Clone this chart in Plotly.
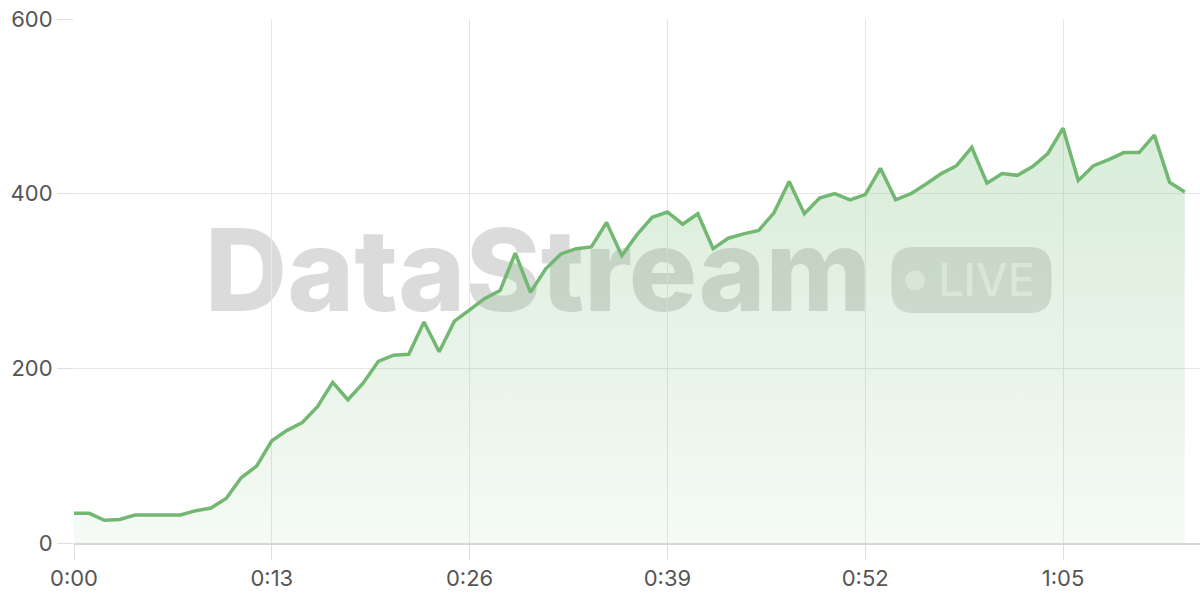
import plotly.graph_objects as go

# ---- data (viewers per second) ----
viewers = [34, 34, 26, 27, 32, 32, 33, 32, 37, 40,
           51, 75, 88, 117, 129, 138, 156, 184, 164, 183,
           208, 215, 216, 253, 219, 254, 267, 280, 289, 332,
           287, 314, 331, 337, 339, 367, 329, 353, 373, 379,
           365, 377, 337, 349, 354, 358, 378, 414, 377, 395,
           400, 393, 399, 429, 393, 400, 411, 423, 432, 453,
           412, 423, 421, 431, 446, 475, 415, 432, 439, 447,
           447, 467, 413, 402]
seconds = list(range(len(viewers)))

x_tick_vals = [0, 13, 26, 39, 52, 65]
x_tick_text = ["0:00", "0:13", "0:26", "0:39", "0:52", "1:05"]
y_tick_vals = [0, 200, 400, 600]
y_tick_text = ["0", "200", "400", "600"]

watermark_text = "DataStream"
badge_text = "LIVE"

LINE = "#72b872"

fig = go.Figure()
fig.add_trace(go.Scatter(
    x=seconds, y=viewers, mode="lines",
    line=dict(color=LINE, width=3.5),
    fill="tozeroy",
    fillgradient=dict(
        type="vertical",
        start=0, stop=480,
        colorscale=[[0, "rgba(112,184,112,0.07)"], [1, "rgba(112,184,112,0.27)"]],
    ),
    hoverinfo="skip",
    showlegend=False,
))

# plot area in pixels: x 74..1200, y 19..543
PW, PH = 1126.0, 524.0
def fx(px):
    return (px - 74) / PW
def fy(py):
    return (543 - py) / PH

shapes = []
# watermark text
shapes.append(dict(
    type="rect", xref="x domain", yref="y domain", layer="below",
    x0=fx(208), x1=fx(868), y0=fy(307), y1=fy(224),
    line=dict(width=0), fillcolor="rgba(0,0,0,0)",
    label=dict(text=watermark_text, textposition="middle center",
               font=dict(family="Inter", size=114, color="rgba(0,0,0,0.14)", weight=800)),
))
# badge rounded rect
hw, hh, r = 80, 33, 22
path = (f"M {-hw + r},{-hh} L {hw - r},{-hh} Q {hw},{-hh} {hw},{-hh + r} "
        f"L {hw},{hh - r} Q {hw},{hh} {hw - r},{hh} L {-hw + r},{hh} "
        f"Q {-hw},{hh} {-hw},{hh - r} L {-hw},{-hh + r} Q {-hw},{-hh} {-hw + r},{-hh} Z")
shapes.append(dict(
    type="path", xref="x domain", yref="y domain", layer="below",
    xsizemode="pixel", ysizemode="pixel",
    xanchor=fx(971.5), yanchor=fy(280), path=path,
    line=dict(width=0), fillcolor="rgba(0,0,0,0.12)",
))
# badge dot
shapes.append(dict(
    type="circle", xref="x domain", yref="y domain", layer="below",
    xsizemode="pixel", ysizemode="pixel",
    xanchor=fx(915), yanchor=fy(280.5), x0=-10, x1=10, y0=-10, y1=10,
    line=dict(width=0), fillcolor="rgba(255,255,255,0.55)",
))
# badge text
shapes.append(dict(
    type="rect", xref="x domain", yref="y domain", layer="below",
    x0=fx(938), x1=fx(1035), y0=fy(294), y1=fy(262),
    line=dict(width=0), fillcolor="rgba(0,0,0,0)",
    label=dict(text=badge_text, textposition="middle center",
               font=dict(family="Inter", size=45, color="rgba(255,255,255,0.6)", weight=500)),
))

fig.update_layout(
    width=1200, height=600,
    margin=dict(l=74, r=0, t=19, b=57),
    paper_bgcolor="white",
    plot_bgcolor="white",
    shapes=shapes,
    font=dict(family="Inter", size=22, color="#555555"),
)
fig.update_xaxes(
    range=[0, 74], tickmode="array", tickvals=x_tick_vals, ticktext=x_tick_text,
    showgrid=True, gridcolor="#e6e6e6", gridwidth=1,
    ticks="outside", ticklen=15, tickcolor="#dedede", tickwidth=1,
    showline=True, linecolor="#d6d6d6", linewidth=2,
    zeroline=False, fixedrange=True, automargin=False,
    tickfont=dict(family="Inter", size=22, color="#555555"),
)
fig.update_yaxes(
    range=[0, 600], tickmode="array", tickvals=y_tick_vals, ticktext=y_tick_text,
    showgrid=True, gridcolor="#e6e6e6", gridwidth=1,
    ticks="outside", ticklen=16, tickcolor="#dedede", tickwidth=1,
    showline=False, zeroline=False, fixedrange=True, automargin=False,
    tickfont=dict(family="Inter", size=22, color="#555555"),
)

fig.write_html(
    "out.html",
    config={"displayModeBar": False},
    post_script="document.body.style.margin='0';document.body.style.overflow='hidden';",
)
